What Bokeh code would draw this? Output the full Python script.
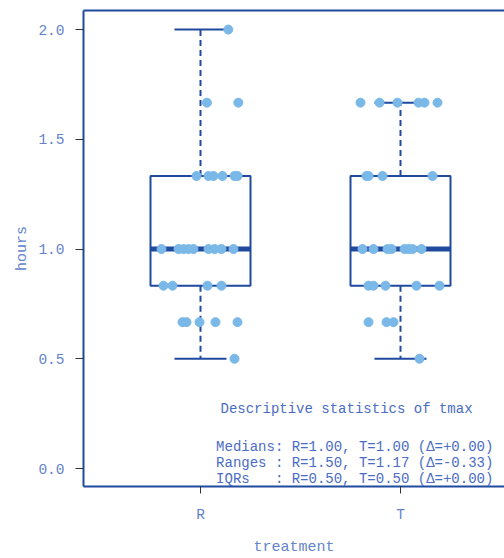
from bokeh.plotting import figure
from bokeh.models import Range1d, FixedTicker, Label, LinearAxis, PrintfTickFormatter
from bokeh.embed import file_html
from bokeh.resources import INLINE

# ---- data ----
categories = ["R", "T"]
cat_pos = [1, 2]

# box statistics per treatment
q1 = [0.833, 0.833]
median = [1.0, 1.0]
q3 = [1.333, 1.333]
whisk_lo = [0.5, 0.5]
whisk_hi = [2.0, 1.667]

# observations (hours) and jitter offsets (category units)
r_values = [2.0,
            1.667, 1.667,
            1.333, 1.333, 1.333, 1.333, 1.333, 1.333,
            1.0, 1.0, 1.0, 1.0, 1.0, 1.0, 1.0, 1.0, 1.0,
            0.833, 0.833, 0.833, 0.833,
            0.667, 0.667, 0.667, 0.667, 0.667,
            0.5]
r_jitter = [0.139,
            0.032, 0.189,
            -0.02, 0.04, 0.065, 0.11, 0.17, 0.185,
            -0.195, -0.11, -0.085, -0.06, -0.035, 0.04, 0.07, 0.105, 0.165,
            -0.185, -0.14, 0.035, 0.105,
            -0.09, -0.07, -0.005, 0.075, 0.185,
            0.17]

t_values = [1.667, 1.667, 1.667, 1.667, 1.667, 1.667,
            1.333, 1.333, 1.333, 1.333,
            1.0, 1.0, 1.0, 1.0, 1.0, 1.0, 1.0, 1.0,
            0.833, 0.833, 0.833, 0.833, 0.833,
            0.667, 0.667, 0.667,
            0.5]
t_jitter = [-0.2, -0.105, -0.015, 0.09, 0.12, 0.185,
            -0.17, -0.16, -0.09, 0.16,
            -0.19, -0.135, -0.065, -0.045, 0.02, 0.04, 0.06, 0.105,
            -0.16, -0.135, -0.075, 0.08, 0.195,
            -0.16, -0.07, -0.035,
            0.095]

y_ticks = [0.0, 0.5, 1.0, 1.5, 2.0]

x_title = "treatment"
y_title = "hours"
stats_title = "Descriptive statistics of tmax"
stats_lines = ["Medians: R=1.00, T=1.00 (\u0394=+0.00)",
               "Ranges : R=1.50, T=1.17 (\u0394=-0.33)",
               "IQRs\u00a0\u00a0\u00a0: R=0.50, T=0.50 (\u0394=+0.00)"]

# ---- styling ----
BLUE = "#1f4a9e"
PT = "#7ab8e8"
LBL = "#6384cc"
FONT = "Liberation Mono"

p = figure(width=504, height=558, output_backend="svg", toolbar_location=None,
           x_range=Range1d(0.415, 2.52), y_range=Range1d(-0.082, 2.087),
           min_border_left=83, min_border_right=0, min_border_top=10, min_border_bottom=72,
           x_axis_label=x_title, y_axis_label=y_title)

p.outline_line_color = None
p.grid.visible = False

for ax in (p.xaxis[0], p.yaxis[0]):
    ax.axis_line_color = BLUE
    ax.axis_line_width = 2
    ax.major_tick_line_color = "#333333"
    ax.major_tick_out = 7
    ax.major_tick_in = 0
    ax.minor_tick_line_color = None
    ax.major_label_text_font = FONT
    ax.major_label_text_font_size = "14.5px"
    ax.major_label_text_color = LBL
    ax.axis_label_text_font = FONT
    ax.axis_label_text_font_size = "15px"
    ax.axis_label_text_color = LBL
    ax.axis_label_text_font_style = "normal"

p.xaxis.ticker = FixedTicker(ticks=cat_pos)
p.xaxis.major_label_overrides = {pos: c for pos, c in zip(cat_pos, categories)}
p.xaxis.major_label_standoff = 13
p.xaxis.axis_label_standoff = 13
p.yaxis.ticker = FixedTicker(ticks=y_ticks)
p.yaxis.formatter = PrintfTickFormatter(format="%.1f")
p.yaxis.major_tick_out = 8
p.yaxis.major_label_standoff = 11
p.yaxis.axis_label_standoff = 4

# top frame line drawn as a bare axis without ticks or labels
top = LinearAxis(axis_line_color=BLUE, axis_line_width=2, ticker=FixedTicker(ticks=[]),
                 major_tick_line_color=None, minor_tick_line_color=None,
                 major_tick_out=0, major_label_standoff=0)
p.add_layout(top, "above")

half = 0.25
cap = 0.13
lefts = [c - half for c in cat_pos]
rights = [c + half for c in cat_pos]

# whiskers
p.segment(x0=cat_pos, x1=cat_pos, y0=q3, y1=whisk_hi, line_color=BLUE, line_width=2, line_dash="6 4")
p.segment(x0=cat_pos, x1=cat_pos, y0=q1, y1=whisk_lo, line_color=BLUE, line_width=2, line_dash="6 4")
p.segment(x0=[c - cap for c in cat_pos], x1=[c + cap for c in cat_pos], y0=whisk_hi, y1=whisk_hi,
          line_color=BLUE, line_width=2)
p.segment(x0=[c - cap for c in cat_pos], x1=[c + cap for c in cat_pos], y0=whisk_lo, y1=whisk_lo,
          line_color=BLUE, line_width=2)
# boxes
p.quad(left=lefts, right=rights, bottom=q1, top=q3, fill_color=None, line_color=BLUE, line_width=2)
p.segment(x0=lefts, x1=rights, y0=median, y1=median, line_color=BLUE, line_width=5)

# points
p.scatter(x=[cat_pos[0] + j for j in r_jitter], y=r_values, size=9, fill_color=PT, line_color=PT)
p.scatter(x=[cat_pos[1] + j for j in t_jitter], y=t_values, size=9, fill_color=PT, line_color=PT)

# statistics text
TXT = "#4a6cc4"
p.add_layout(Label(x=1.10, y=0.273, text=stats_title, text_font=FONT, text_font_size="14px",
                   text_color=TXT, text_baseline="middle"))
for line, yy in zip(stats_lines, [0.100, 0.023, -0.050]):
    p.add_layout(Label(x=1.078, y=yy, text=line, text_font=FONT, text_font_size="14px",
                       text_color=TXT, text_baseline="middle"))

open("out.html", "w").write(file_html(p, INLINE))
